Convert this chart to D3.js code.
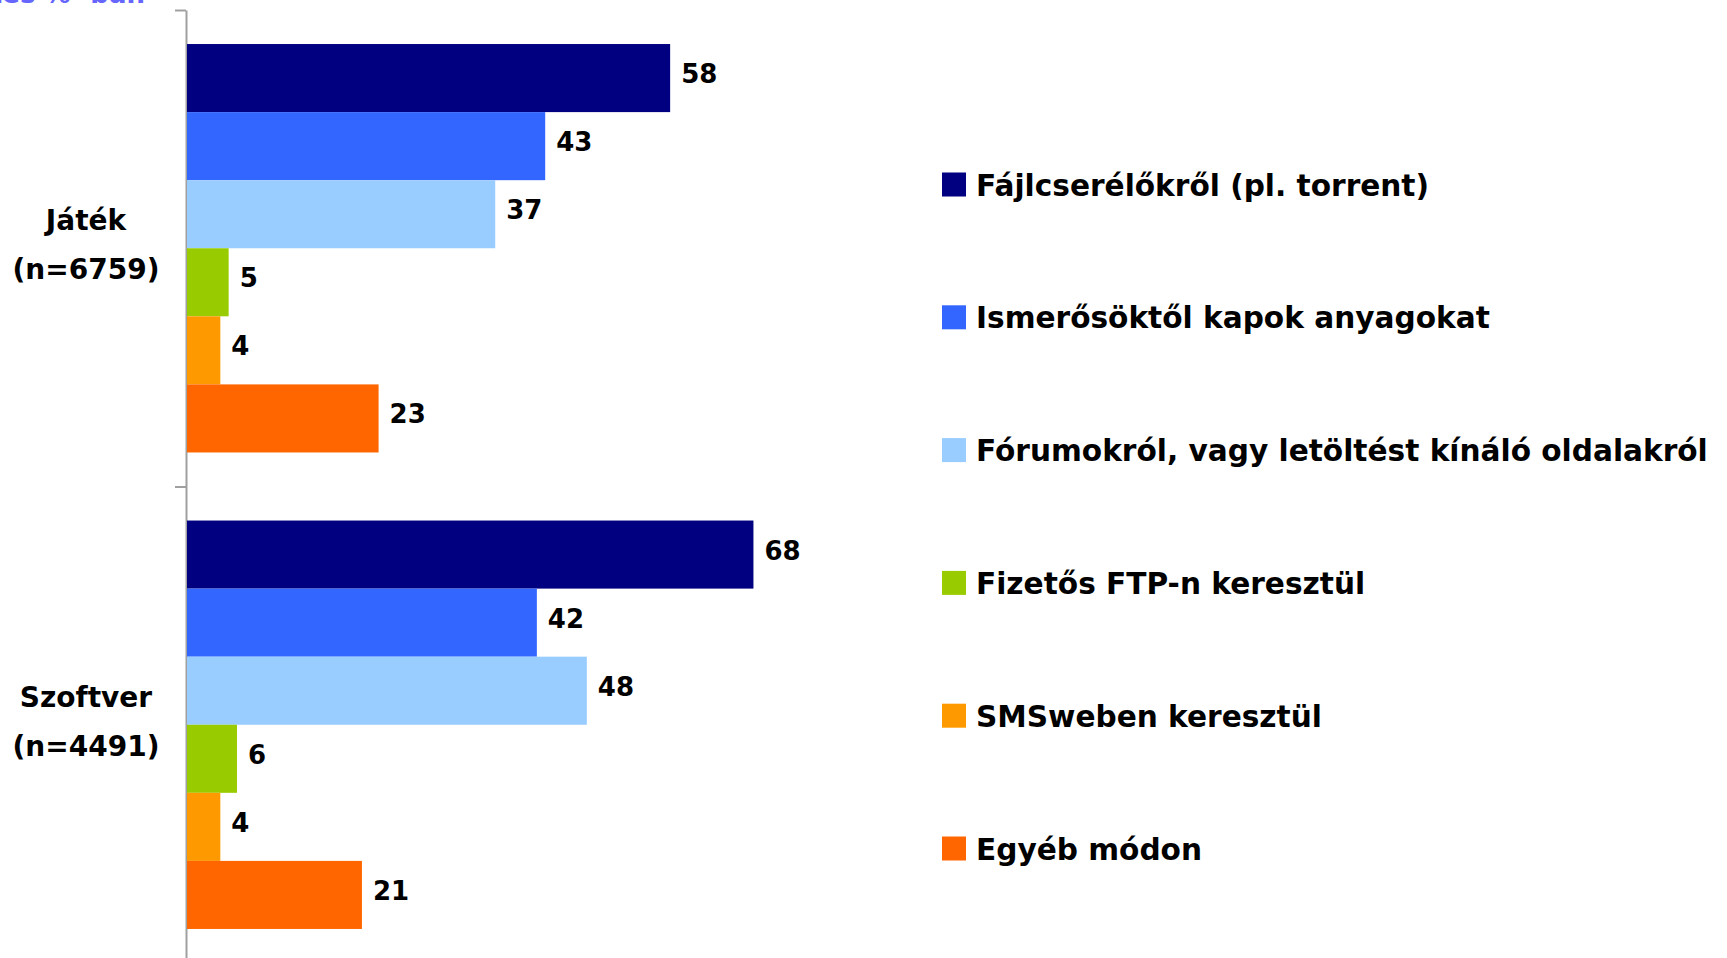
<!DOCTYPE html>
<html>
<head>
<meta charset="utf-8">
<script src="https://cdnjs.cloudflare.com/ajax/libs/d3/7.8.5/d3.min.js"></script>
<style>
  body { margin: 0; background: #fff; }
  svg { display: block; }
  text { font-family: "DejaVu Sans", Verdana, sans-serif; font-weight: bold; }
</style>
</head>
<body>
<div id="chart"></div>
<script>
var categories = ["Játék", "Szoftver"];
var categoryN = ["(n=6759)", "(n=4491)"];
var series = [
  "Fájlcserélőkről (pl. torrent)",
  "Ismerősöktől kapok anyagokat",
  "Fórumokról, vagy letöltést kínáló oldalakról",
  "Fizetős FTP-n keresztül",
  "SMSweben keresztül",
  "Egyéb módon"
];
var jatekValues = [58, 43, 37, 5, 4, 23];
var szoftverValues = [68, 42, 48, 6, 4, 21];
var colors = ["#000080", "#3366FF", "#99CCFF", "#99CC00", "#FF9900", "#FF6600"];

var values = [jatekValues, szoftverValues];

var width = 1727, height = 958;

var svg = d3.select("#chart").append("svg")
    .attr("width", width)
    .attr("height", height);

var x = d3.scaleLinear().domain([0, 100]).range([187, 1020]);

var y0 = d3.scaleBand().domain(categories).range([10, 963]).padding(0);
var y1 = d3.scaleBand().domain(series).range([0, y0.bandwidth()])
    .paddingInner(0).paddingOuter(0.5);

// title, cut off at the top edge as in the source
svg.append("text")
    .attr("x", 145)
    .attr("y", 3)
    .attr("text-anchor", "end")
    .style("font-size", "26px")
    .style("fill", "#6666FF")
    .text("Említés % -ban");

// axis with ticks on the category borders
var yb = d3.scaleLinear().domain([0, categories.length]).range([10, 963]);
var axis = svg.append("g")
    .attr("transform", "translate(186,0)")
    .call(d3.axisLeft(yb).tickValues(d3.range(categories.length + 1))
        .tickFormat("").tickSize(11).tickSizeOuter(0));
axis.selectAll("path, line").attr("stroke", "#A0A0A0").attr("stroke-width", 2);

var groups = svg.selectAll(".cat")
    .data(categories)
    .enter().append("g")
    .attr("class", "cat")
    .attr("transform", function(d) { return "translate(0," + y0(d) + ")"; });

groups.selectAll("rect")
    .data(function(d, i) { return values[i].map(function(v, j) { return {s: series[j], v: v, c: colors[j]}; }); })
    .enter().append("rect")
    .attr("x", x(0))
    .attr("y", function(d) { return y1(d.s); })
    .attr("width", function(d) { return x(d.v) - x(0); })
    .attr("height", y1.bandwidth())
    .attr("fill", function(d) { return d.c; });

groups.selectAll("text.val")
    .data(function(d, i) { return values[i].map(function(v, j) { return {s: series[j], v: v}; }); })
    .enter().append("text")
    .attr("class", "val")
    .attr("x", function(d) { return x(d.v) + 11; })
    .attr("y", function(d) { return y1(d.s) + y1.bandwidth() / 2 + 5; })
    .style("font-size", "26px")
    .style("fill", "#000")
    .text(function(d) { return d.v; });

// category labels
categories.forEach(function(c, i) {
  var cy = y0(c) + y0.bandwidth() / 2;
  svg.append("text")
      .attr("x", 86).attr("y", cy - 18)
      .attr("text-anchor", "middle")
      .style("font-size", "28px")
      .text(c);
  svg.append("text")
      .attr("x", 86).attr("y", cy + 31)
      .attr("text-anchor", "middle")
      .style("font-size", "28px")
      .text(categoryN[i]);
});

// legend
var legY = d3.scalePoint().domain(series).range([184.5, 848.5]);
var leg = svg.selectAll(".leg")
    .data(series)
    .enter().append("g")
    .attr("class", "leg")
    .attr("transform", function(d) { return "translate(942," + legY(d) + ")"; });

leg.append("rect")
    .attr("x", 0).attr("y", -12)
    .attr("width", 24).attr("height", 24)
    .attr("fill", function(d, i) { return colors[i]; });

leg.append("text")
    .attr("x", 34).attr("y", 11)
    .style("font-size", "29.6px")
    .text(function(d) { return d; });
</script>
</body>
</html>
